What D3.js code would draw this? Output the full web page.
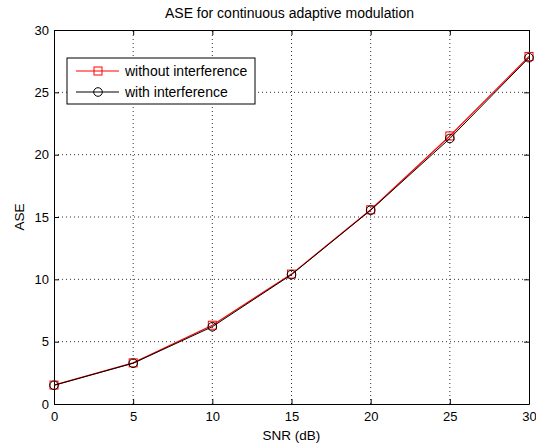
<!DOCTYPE html>
<meta charset="utf-8">
<html>
<head>
    <script src="https://d3js.org/d3.v7.min.js"></script>
</head>
<style>
    body { margin: 0; background: white; }
    text { font-family: "Liberation Sans", Arial, sans-serif; fill: black; }
</style>
<body>
<div id="chart"></div>
<script>

// chart values
var snr = [0, 5, 10, 15, 20, 25, 30];
var withoutInterference = [1.52, 3.30, 6.32, 10.42, 15.58, 21.50, 27.88];
var withInterference = [1.50, 3.27, 6.20, 10.38, 15.55, 21.30, 27.78];
var xTicks = [0, 5, 10, 15, 20, 25, 30];
var yTicks = [0, 5, 10, 15, 20, 25, 30];

var width = 536, height = 444;
var margin = {left: 54, right: 7, top: 30, bottom: 40};

var svg = d3.select("#chart")
    .append("svg")
        .attr("width", width)
        .attr("height", height);

var x = d3.scaleLinear().domain([0, 30]).range([margin.left, width - margin.right]);
var y = d3.scaleLinear().domain([0, 30]).range([height - margin.bottom, margin.top]);

// dotted grid
svg.append("g").selectAll("line")
    .data(xTicks.slice(1, -1)).enter()
    .append("line")
    .attr("x1", d => x(d)).attr("x2", d => x(d))
    .attr("y1", y(0)).attr("y2", y(30))
    .style("stroke", "#333").style("stroke-dasharray", "1,3");

svg.append("g").selectAll("line")
    .data(yTicks.slice(1, -1)).enter()
    .append("line")
    .attr("y1", d => y(d)).attr("y2", d => y(d))
    .attr("x1", x(0)).attr("x2", x(30))
    .style("stroke", "#333").style("stroke-dasharray", "1,3");

// axes with inward ticks on all four sides
var tick = 5;
svg.append("g")
    .attr("transform", "translate(0," + y(0) + ")")
    .call(d3.axisBottom(x).tickValues(xTicks).tickSizeInner(-tick).tickSizeOuter(0).tickPadding(8));
svg.append("g")
    .attr("transform", "translate(0," + y(30) + ")")
    .call(d3.axisTop(x).tickValues(xTicks).tickSizeInner(-tick).tickSizeOuter(0).tickFormat(""));
svg.append("g")
    .attr("transform", "translate(" + x(0) + ",0)")
    .call(d3.axisLeft(y).tickValues(yTicks).tickSizeInner(-tick).tickSizeOuter(0).tickPadding(5));
svg.append("g")
    .attr("transform", "translate(" + x(30) + ",0)")
    .call(d3.axisRight(y).tickValues(yTicks).tickSizeInner(-tick).tickSizeOuter(0).tickFormat(""));

svg.selectAll(".tick text").style("font-size", "13px").style("font-family", "Liberation Sans, Arial, sans-serif");
svg.selectAll(".domain, .tick line").style("stroke", "black");

var line = d3.line().x((d, i) => x(snr[i])).y(d => y(d));

// red series with squares
svg.append("path")
    .datum(withoutInterference)
    .attr("d", line)
    .style("fill", "none").style("stroke", "red").style("stroke-width", 1.2);
svg.append("g").selectAll("rect")
    .data(withoutInterference).enter()
    .append("rect")
    .attr("x", (d, i) => x(snr[i]) - 4)
    .attr("y", d => y(d) - 4)
    .attr("width", 8).attr("height", 8)
    .style("fill", "none").style("stroke", "red");

// black series with circles
svg.append("path")
    .datum(withInterference)
    .attr("d", line)
    .style("fill", "none").style("stroke", "black").style("stroke-width", 1);
svg.append("g").selectAll("circle")
    .data(withInterference).enter()
    .append("circle")
    .attr("cx", (d, i) => x(snr[i]))
    .attr("cy", d => y(d))
    .attr("r", 4.3)
    .style("fill", "none").style("stroke", "black");

// titles
svg.append("text")
    .attr("x", (x(0) + x(30)) / 2 - 2).attr("y", 18)
    .attr("text-anchor", "middle")
    .style("font-size", "14px")
    .text("ASE for continuous adaptive modulation");
svg.append("text")
    .attr("x", (x(0) + x(30)) / 2).attr("y", 440)
    .attr("text-anchor", "middle")
    .style("font-size", "13.5px")
    .text("SNR (dB)");
svg.append("text")
    .attr("transform", "translate(24," + (y(0) + y(30)) / 2 + ") rotate(-90)")
    .attr("text-anchor", "middle")
    .style("font-size", "13.5px")
    .text("ASE");

// legend
var legend = svg.append("g").attr("transform", "translate(67,58)");
legend.append("rect")
    .attr("width", 188).attr("height", 46)
    .style("fill", "white").style("stroke", "black");

legend.append("line").attr("x1", 9).attr("x2", 52).attr("y1", 13).attr("y2", 13)
    .style("stroke", "red").style("stroke-width", 1.2);
legend.append("rect").attr("x", 27).attr("y", 9).attr("width", 8).attr("height", 8)
    .style("fill", "none").style("stroke", "red");
legend.append("text").attr("x", 58).attr("y", 18).style("font-size", "14px").text("without interference");

legend.append("line").attr("x1", 9).attr("x2", 52).attr("y1", 34).attr("y2", 34)
    .style("stroke", "black");
legend.append("circle").attr("cx", 31).attr("cy", 34).attr("r", 4.3)
    .style("fill", "none").style("stroke", "black");
legend.append("text").attr("x", 58).attr("y", 39).style("font-size", "14px").text("with interference");

</script>
</body>
</html>
